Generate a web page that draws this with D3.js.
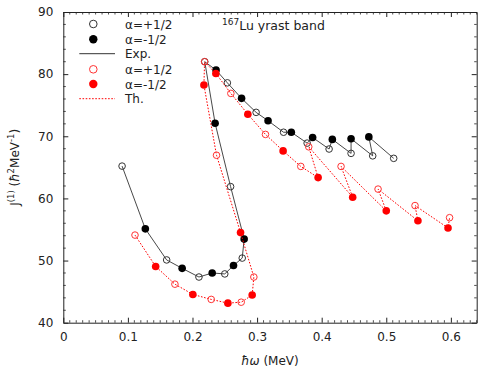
<!DOCTYPE html>
<html><head><meta charset="utf-8">
<script src="https://cdn.jsdelivr.net/npm/d3@7"></script>
<style>body{margin:0;background:#fff} text{font-family:"DejaVu Sans",sans-serif}</style>
</head><body><svg id="c" width="480" height="372"></svg>
<script>
// Experimental data (ordered by spin, alternating signature: 1 = α=+1/2, -1 = α=-1/2)
const expOmega = [0.091,0.127,0.160,0.184,0.210,0.2305,0.250,0.2635,0.277,0.280,0.259,0.235,0.219,0.2365,0.254,0.276,0.2985,0.317,0.341,0.353,0.3775,0.386,0.4115,0.4165,0.4455,0.4455,0.479,0.473,0.5115];
const expJ     = [65.2,55.1,50.1,48.75,47.35,48.0,47.85,49.2,50.4,53.45,61.9,72.1,82.0,80.65,78.6,76.1,73.85,72.5,70.65,70.65,68.9,69.8,67.95,69.5,67.25,69.6,66.85,69.9,66.45];
const expAlpha = [1,-1,1,-1,1,-1,1,-1,1,-1,1,-1,1,-1,1,-1,1,-1,1,-1,1,-1,1,-1,1,-1,1,-1,1];
// Theoretical data
const thOmega = [0.111,0.143,0.1728,0.2006,0.229,0.2548,0.2754,0.2924,0.295,0.2744,0.2372,0.2177,0.2187,0.2362,0.2594,0.2857,0.313,0.3403,0.3677,0.3945,0.380,0.448,0.430,0.500,0.4873,0.549,0.5445,0.5956,0.598];
const thJ     = [54.1,49.05,46.2,44.55,43.75,43.15,43.3,44.45,47.35,54.5,66.95,78.25,82.0,80.1,76.9,73.55,70.3,67.65,65.15,63.35,68.3,60.2,65.15,58.0,61.5,56.4,58.85,55.25,56.9];
const thAlpha = [1,-1,1,-1,1,-1,1,-1,1,-1,1,-1,1,-1,1,-1,1,-1,1,-1,1,-1,1,-1,1,-1,1,-1,1];
// Axes
const xTicks = [0,0.1,0.2,0.3,0.4,0.5,0.6];
const xTickLabels = ["0","0.1","0.2","0.3","0.4","0.5","0.6"];
const yTicks = [40,50,60,70,80,90];
const yTickLabels = ["40","50","60","70","80","90"];
const legendLabels = ["α=+1/2","α=-1/2","Exp.","α=+1/2","α=-1/2","Th."];

const svg = d3.select("#c");
const L = 63.3, R = 476.7, T = 12, B = 322.7;
const x = d3.scaleLinear().domain([0,0.64]).range([L,R]);
const y = d3.scaleLinear().domain([40,90]).range([B,T]);
const axCol = "#222";

// minor ticks
const xMinor = d3.range(0,0.641,0.01).filter(v=>Math.abs(v*10-Math.round(v*10))>1e-6);
const yMinor = d3.range(40,90.1,2).filter(v=>v%10!==0);
const g = svg.append("g");
function minor(sel, vals, scale, orient){
  vals.forEach(v=>{
    const p = scale(v);
    if(orient==="b") sel.append("line").attr("x1",p).attr("x2",p).attr("y1",B).attr("y2",B-2.5);
    if(orient==="t") sel.append("line").attr("x1",p).attr("x2",p).attr("y1",T).attr("y2",T+2.5);
    if(orient==="l") sel.append("line").attr("y1",p).attr("y2",p).attr("x1",L).attr("x2",L+2.5);
    if(orient==="r") sel.append("line").attr("y1",p).attr("y2",p).attr("x1",R).attr("x2",R-2.5);
  });
}
const mg = svg.append("g").attr("stroke",axCol).attr("stroke-width",0.8);
minor(mg,xMinor,x,"b"); minor(mg,xMinor,x,"t"); minor(mg,yMinor,y,"l"); minor(mg,yMinor,y,"r");

const fmtX = d=>xTickLabels[xTicks.indexOf(d)];
const fmtY = d=>yTickLabels[yTicks.indexOf(d)];
const xb = svg.append("g").attr("transform",`translate(0,${B})`)
  .call(d3.axisBottom(x).tickValues(xTicks).tickFormat(fmtX).tickSizeInner(-5).tickSizeOuter(0).tickPadding(10));
const xt = svg.append("g").attr("transform",`translate(0,${T})`)
  .call(d3.axisTop(x).tickValues(xTicks).tickFormat("").tickSizeInner(-5).tickSizeOuter(0));
const yl = svg.append("g").attr("transform",`translate(${L},0)`)
  .call(d3.axisLeft(y).tickValues(yTicks).tickFormat(fmtY).tickSizeInner(-5).tickSizeOuter(0).tickPadding(10));
const yr = svg.append("g").attr("transform",`translate(${R},0)`)
  .call(d3.axisRight(y).tickValues(yTicks).tickFormat("").tickSizeInner(-5).tickSizeOuter(0));
[xb,xt,yl,yr].forEach(a=>{
  a.selectAll("path").attr("stroke",axCol);
  a.selectAll("line").attr("stroke",axCol);
  a.selectAll("text").attr("font-size",12).attr("fill","#222").attr("font-family","DejaVu Sans");
});

// data
const expData = expOmega.map((w,i)=>({w, j:expJ[i], a:expAlpha[i]}));
const thData = thOmega.map((w,i)=>({w, j:thJ[i], a:thAlpha[i]}));
const line = d3.line().x(d=>x(d.w)).y(d=>y(d.j));

svg.append("path").datum(expData).attr("d",line).attr("fill","none").attr("stroke","#333").attr("stroke-width",0.9);
svg.append("g").selectAll("circle").data(expData).join("circle")
  .attr("cx",d=>x(d.w)).attr("cy",d=>y(d.j))
  .attr("r",d=>d.a>0?3.3:3.8)
  .attr("fill",d=>d.a>0?"none":"#000")
  .attr("stroke",d=>d.a>0?"#333":"none").attr("stroke-width",1);

svg.append("path").datum(thData).attr("d",line).attr("fill","none").attr("stroke","#f00").attr("stroke-width",1).attr("stroke-dasharray","1.6,1.6");
svg.append("g").selectAll("circle").data(thData).join("circle")
  .attr("cx",d=>x(d.w)).attr("cy",d=>y(d.j))
  .attr("r",d=>d.a>0?3.3:3.8)
  .attr("fill",d=>d.a>0?"none":"#f00")
  .attr("stroke",d=>d.a>0?"#f33":"none").attr("stroke-width",1);

// legend
const leg = svg.append("g");
const legY = [24,39.3,53.7,69.3,84,98.7];
const mx = 93.3, tx = 125;
legendLabels.forEach((t,i)=>{
  leg.append("text").attr("x",tx).attr("y",legY[i]+4.5).attr("font-size",12).attr("fill","#222").text(t);
});
leg.append("circle").attr("cx",mx).attr("cy",legY[0]).attr("r",3.8).attr("fill","none").attr("stroke","#333");
leg.append("circle").attr("cx",mx).attr("cy",legY[1]).attr("r",4.2).attr("fill","#000");
leg.append("line").attr("x1",79.3).attr("x2",115).attr("y1",legY[2]).attr("y2",legY[2]).attr("stroke","#333").attr("stroke-width",1);
leg.append("circle").attr("cx",mx).attr("cy",legY[3]).attr("r",3.8).attr("fill","none").attr("stroke","#f33");
leg.append("circle").attr("cx",mx).attr("cy",legY[4]).attr("r",4.2).attr("fill","#f00");
leg.append("line").attr("x1",79.3).attr("x2",115).attr("y1",legY[5]).attr("y2",legY[5]).attr("stroke","#f00").attr("stroke-width",1).attr("stroke-dasharray","1.6,1.6");

// annotation
const ann = svg.append("text").attr("x",222).attr("y",29.5).attr("font-size",12.5).attr("fill","#222");
ann.append("tspan").attr("font-size",9).attr("dy",-5).text("167");
ann.append("tspan").attr("dy",5).text("Lu yrast band");

// axis labels
const xl = svg.append("text").attr("x",(L+R)/2).attr("y",365).attr("text-anchor","middle").attr("font-size",12).attr("fill","#222");
xl.append("tspan").attr("font-style","italic").text("ħω");
xl.append("tspan").text(" (MeV)");
const ylab = svg.append("text").attr("transform",`translate(19,${(T+B)/2}) rotate(-90)`).attr("text-anchor","middle").attr("font-size",12).attr("fill","#222");
ylab.append("tspan").text("J");
ylab.append("tspan").attr("font-size",8.5).attr("dy",-5).text("(1)");
ylab.append("tspan").attr("dy",5).text(" (");
ylab.append("tspan").attr("font-style","italic").text("ħ");
ylab.append("tspan").attr("font-size",8.5).attr("dy",-5).text("2");
ylab.append("tspan").attr("dy",5).text("MeV");
ylab.append("tspan").attr("font-size",8.5).attr("dy",-5).text("-1");
ylab.append("tspan").attr("dy",5).text(")");
</script></body></html>
